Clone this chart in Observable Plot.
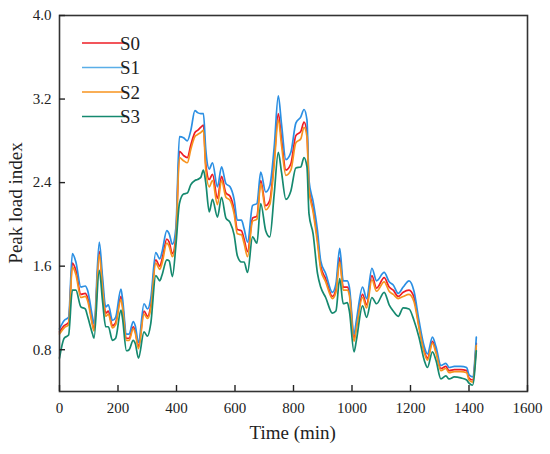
<!DOCTYPE html>
<html><head><meta charset="utf-8">
<script src="https://cdn.jsdelivr.net/npm/d3@7"></script>
<script src="https://cdn.jsdelivr.net/npm/@observablehq/plot@0.6"></script>
<style>
body{margin:0;background:#fff;}
#wrap{position:relative;width:550px;height:454px;font-family:"Liberation Serif","Times New Roman",serif;}
#wrap svg, #wrap svg text{font-family:"Liberation Serif","Times New Roman",serif !important;}
</style></head><body><div id="wrap"></div>
<script>
const time = [0,16,31,44,56,73,88,96,113,118,136,147,158,167,181,192,210,215,229,238,252,259,270,289,301,312,329,343,350,367,375,386,398,410,424,437,449,463,472,483,492,500,512,523,540,554,569,583,597,608,622,631,643,660,675,688,705,719,734,748,759,774,791,808,825,836,846,853,867,882,893,910,933,945,958,970,984,991,1007,1015,1036,1050,1068,1084,1110,1127,1141,1158,1175,1195,1212,1229,1247,1258,1275,1287,1304,1321,1332,1350,1372,1392,1400,1412,1425];
const s1 = [1.00,1.08,1.11,1.72,1.64,1.40,1.41,1.37,1.11,1.05,1.83,1.50,1.21,1.23,1.08,1.11,1.38,1.30,0.95,0.95,1.07,1.03,0.87,1.24,1.19,1.29,1.73,1.67,1.73,1.94,1.91,1.81,1.97,2.84,2.83,2.80,2.90,3.09,3.07,3.06,3.06,2.72,2.53,2.59,2.36,2.55,2.39,2.36,2.24,2.04,2.04,1.96,1.83,2.18,2.20,2.50,2.31,2.37,2.74,3.23,2.96,2.62,2.69,2.97,3.03,3.10,3.00,2.42,2.22,1.94,1.65,1.53,1.35,1.43,1.77,1.46,1.46,1.40,0.95,1.08,1.40,1.29,1.58,1.46,1.54,1.45,1.42,1.34,1.40,1.46,1.36,1.08,0.83,0.76,0.92,0.83,0.65,0.67,0.63,0.64,0.64,0.63,0.56,0.54,0.92];
const s0 = [0.97,1.03,1.06,1.63,1.56,1.33,1.34,1.30,1.05,0.99,1.74,1.42,1.15,1.17,1.03,1.06,1.31,1.24,0.91,0.91,1.02,0.98,0.83,1.17,1.12,1.22,1.66,1.60,1.66,1.86,1.83,1.72,1.90,2.70,2.66,2.64,2.76,2.88,2.90,2.93,2.95,2.58,2.43,2.48,2.25,2.46,2.30,2.27,2.14,1.95,1.94,1.86,1.74,2.06,2.08,2.42,2.18,2.23,2.62,3.06,2.82,2.52,2.58,2.85,2.89,2.98,2.88,2.36,2.15,1.86,1.60,1.48,1.31,1.38,1.68,1.40,1.40,1.35,0.91,1.03,1.33,1.23,1.51,1.39,1.49,1.40,1.37,1.31,1.35,1.37,1.30,1.03,0.79,0.72,0.88,0.79,0.62,0.64,0.60,0.61,0.61,0.60,0.53,0.51,0.86];
const s2 = [0.95,1.01,1.04,1.59,1.52,1.30,1.31,1.27,1.03,0.98,1.71,1.39,1.12,1.14,1.01,1.04,1.28,1.21,0.89,0.89,1.00,0.96,0.81,1.14,1.10,1.19,1.63,1.57,1.62,1.82,1.79,1.69,1.86,2.64,2.61,2.59,2.72,2.84,2.86,2.88,2.90,2.53,2.36,2.42,2.19,2.42,2.26,2.23,2.10,1.91,1.90,1.82,1.69,2.03,2.05,2.39,2.14,2.19,2.57,3.00,2.76,2.47,2.52,2.78,2.82,2.93,2.84,2.33,2.12,1.82,1.57,1.45,1.29,1.35,1.64,1.37,1.37,1.32,0.88,1.00,1.30,1.20,1.47,1.36,1.45,1.36,1.33,1.29,1.31,1.33,1.26,1.01,0.77,0.70,0.86,0.77,0.60,0.62,0.58,0.59,0.59,0.58,0.51,0.49,0.84];
const s3 = [0.72,0.91,0.94,1.37,1.37,1.21,1.19,1.12,0.95,0.91,1.56,1.27,1.02,1.02,0.89,0.91,1.18,1.11,0.79,0.80,0.89,0.86,0.72,0.97,0.93,1.05,1.51,1.46,1.51,1.66,1.65,1.50,1.80,2.20,2.29,2.30,2.38,2.42,2.43,2.45,2.52,2.40,2.12,2.24,2.07,2.26,2.06,2.02,1.90,1.70,1.64,1.64,1.54,1.88,1.82,2.20,1.94,1.88,2.29,2.69,2.50,2.24,2.32,2.54,2.55,2.64,2.55,2.10,1.91,1.53,1.40,1.30,1.15,1.17,1.48,1.24,1.25,1.17,0.78,0.89,1.22,1.11,1.30,1.24,1.35,1.23,1.17,1.12,1.20,1.19,1.08,0.92,0.70,0.63,0.78,0.70,0.52,0.55,0.52,0.54,0.53,0.51,0.48,0.46,0.79];
const seriesNames = ["S0","S1","S2","S3"];
const seriesColors = ["#ee1c25","#2b8fe3","#f7931e","#15896f"];
const legendColors = ["#ee1c25","#5aaee8","#f7931e","#15896f"];
const xTicks = [0,200,400,600,800,1000,1200,1400,1600];
const yTicks = [0.8,1.6,2.4,3.2,4.0];
const xTitle = "Time (min)";
const yTitle = "Peak load index";

const seriesValues = [s0,s1,s2,s3];
const rows = [];
seriesValues.forEach((arr,i)=>arr.forEach((v,j)=>rows.push({t:time[j], v, s:seriesNames[i]})));

const font = "Liberation Serif";
const plot = Plot.plot({
  width:550, height:454,
  marginLeft:59, marginRight:23, marginTop:15, marginBottom:63,
  style:{fontFamily:font, fontSize:"15px", color:"#222", background:"#fff", overflow:"visible"},
  x:{domain:[0,1600], label:null},
  y:{domain:[0.4,4.0], label:null},
  color:{domain:seriesNames, range:seriesColors},
  marks:[
    Plot.line(rows,{x:"t",y:"v",z:"s",stroke:"s",strokeWidth:1.7,curve:"monotone-x"}),
    Plot.frame({stroke:"#333", strokeWidth:1.6}),
    Plot.axisX({ticks:xTicks, tickSize:-6, tickPadding:17, tickFormat:d=>String(d), stroke:"#222", strokeWidth:1.4, fill:"#222"}),
    Plot.axisY({ticks:yTicks, tickSize:-6, tickPadding:14, tickFormat:d=>d.toFixed(1), stroke:"#222", strokeWidth:1.4, fill:"#222"})
  ]
});
document.getElementById("wrap").appendChild(plot);

const svg = d3.select(plot);
svg.append("text").attr("x",292.7).attr("y",439).attr("text-anchor","middle")
  .attr("font-family",font).attr("font-size",19).attr("fill","#222").text(xTitle);
svg.append("text").attr("transform","translate(22,203) rotate(-90)").attr("text-anchor","middle")
  .attr("font-family",font).attr("font-size",19).attr("fill","#222").text(yTitle);
const leg = svg.append("g");
seriesNames.forEach((n,i)=>{
  const y = 43 + i*24.5;
  leg.append("line").attr("x1",82).attr("x2",125).attr("y1",y).attr("y2",y)
    .attr("stroke",legendColors[i]).attr("stroke-width",1.6);
  leg.append("text").attr("x",130).attr("y",y+6.5).attr("font-family",font)
    .attr("font-size",19).attr("fill","#222").text(n);
});
</script>
</body></html>
